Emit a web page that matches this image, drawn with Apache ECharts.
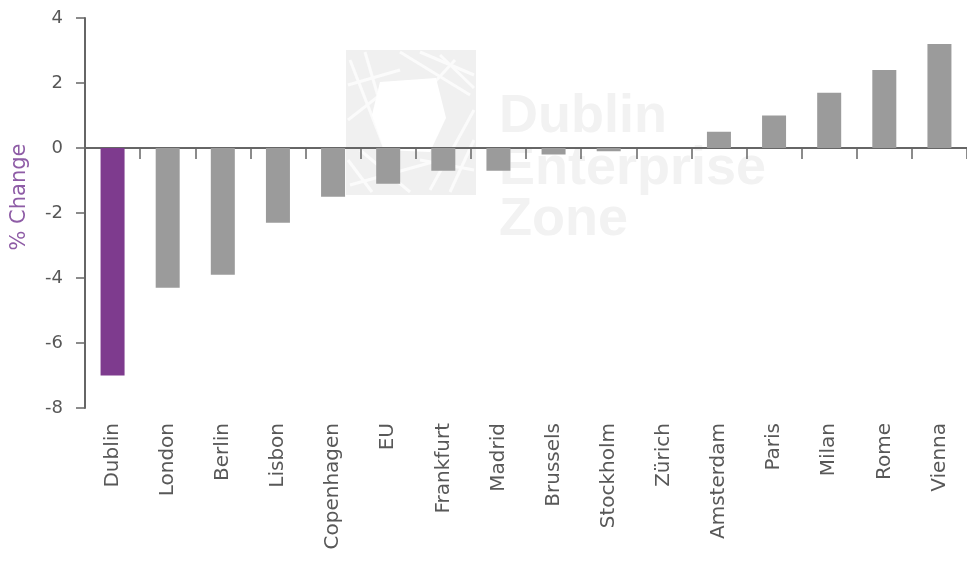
<!DOCTYPE html>
<html>
<head>
<meta charset="utf-8">
<script src="https://cdn.jsdelivr.net/npm/echarts@6/dist/echarts.min.js"></script>
<style>
  html, body { margin: 0; padding: 0; background: #fff; }
  #chart { width: 967px; height: 561px; }
</style>
</head>
<body>
<div id="chart"></div>
<script>
// 城市名称
var cities = ['Dublin', 'London', 'Berlin', 'Lisbon', 'Copenhagen', 'EU', 'Frankfurt', 'Madrid',
              'Brussels', 'Stockholm', 'Zürich', 'Amsterdam', 'Paris', 'Milan', 'Rome', 'Vienna'];
// 变化百分比
var changes = [-7.0, -4.3, -3.9, -2.3, -1.5, -1.1, -0.7, -0.7, -0.2, -0.1, 0, 0.5, 1.0, 1.7, 2.4, 3.2];
var highlightCity = 'Dublin';
var yTicks = [-8, -6, -4, -2, 0, 2, 4];

var axisColor = '#666666';
var textColor = '#585858';
var fontName = 'DejaVu Sans';

var barData = [];
for (var i = 0; i < cities.length; i++) {
    barData.push({
        value: changes[i],
        itemStyle: { color: cities[i] === highlightCity ? '#7e3b8e' : '#9b9b9b' }
    });
}

var myChart = echarts.init(document.getElementById('chart'), null, { renderer: 'canvas' });

// 水印 (logo + 文字)
var wm = '#f2f2f2';
var logo = [];
logo.push({ type: 'rect', z: -3, shape: { x: 346, y: 50, width: 130, height: 145 }, style: { fill: '#f0f0f0' } });
// 白色条纹
var strips = [
    [[350, 60], [395, 175]], [[365, 52], [385, 120]], [[400, 52], [470, 95]], [[420, 52], [474, 75]],
    [[474, 110], [430, 190]], [[474, 140], [450, 192]], [[350, 185], [440, 160]], [[348, 120], [380, 95]],
    [[348, 85], [400, 70]], [[455, 60], [400, 120]], [[360, 150], [410, 192]], [[440, 55], [474, 88]],
    [[348, 160], [372, 192]], [[474, 170], [420, 160]]
];
for (var s = 0; s < strips.length; s++) {
    logo.push({
        type: 'line', z: -2,
        shape: { x1: strips[s][0][0], y1: strips[s][0][1], x2: strips[s][1][0], y2: strips[s][1][1] },
        style: { stroke: '#fbfbfb', lineWidth: 3 }
    });
}
logo.push({ type: 'polygon', z: -2,
    shape: { points: [[380, 82], [436, 78], [446, 118], [430, 152], [384, 150], [372, 115]] },
    style: { fill: '#ffffff' } });
var wmText = [['Dublin', 90], ['Enterprise', 142], ['Zone', 193]];
for (var t = 0; t < wmText.length; t++) {
    logo.push({
        type: 'text', z: -1, x: 499, y: wmText[t][1],
        style: { text: wmText[t][0], fill: wm, font: 'bold 54px "Liberation Sans"', textVerticalAlign: 'alphabetic' }
    });
}
// 纵轴名称
logo.push({
    type: 'text', z: 5, x: 20, y: 197, rotation: Math.PI / 2,
    style: { text: '% Change', fill: '#8e5ca6', font: '21px "DejaVu Sans"', textAlign: 'center', textVerticalAlign: 'middle' }
});

myChart.setOption({
    animation: false,
    graphic: logo,
    grid: { left: 85, top: 18, width: 889, height: 390, containLabel: false },
    xAxis: [{
        type: 'category',
        data: cities,
        axisLine: { onZero: true, lineStyle: { color: axisColor, width: 2 } },
        axisTick: { show: true, interval: 0, inside: false, length: 11, lineStyle: { color: axisColor, width: 1.5 } },
        axisLabel: { show: false },
        splitLine: { show: false }
    }, {
        type: 'category',
        data: cities,
        position: 'bottom',
        axisLine: { show: false, onZero: false },
        axisTick: { show: false },
        axisLabel: { rotate: 90, margin: 15, color: textColor, fontSize: 20, fontFamily: fontName, interval: 0 }
    }],
    yAxis: {
        type: 'value',
        min: -8, max: 4, interval: 2,
        axisLine: { show: true, lineStyle: { color: axisColor, width: 2 } },
        axisTick: { show: true, length: 9, lineStyle: { color: axisColor, width: 1.5 } },
        axisLabel: { color: textColor, fontSize: 18, fontFamily: fontName, margin: 22,
            formatter: function (v) { return yTicks.indexOf(v) >= 0 ? String(v) : ''; } },
        splitLine: { show: false }
    },
    series: [{
        type: 'bar',
        xAxisIndex: 0,
        data: barData,
        barWidth: 24
    }]
});
</script>
</body>
</html>
